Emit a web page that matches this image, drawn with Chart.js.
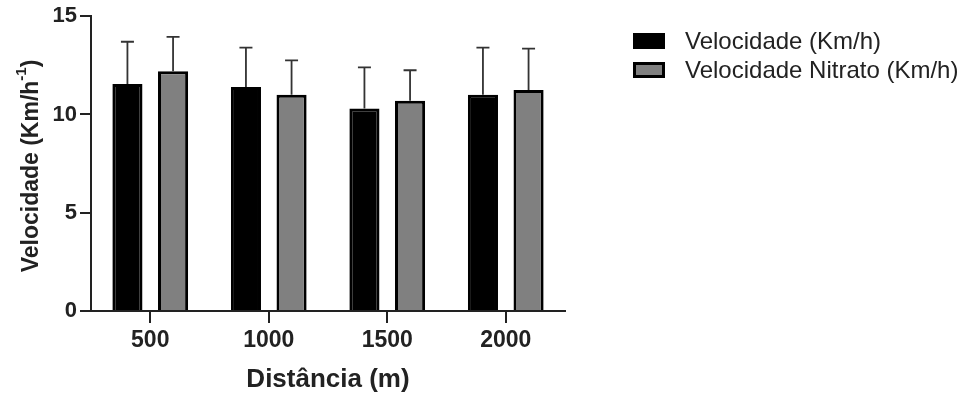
<!DOCTYPE html>
<html>
<head>
<meta charset="utf-8">
<script src="https://cdn.jsdelivr.net/npm/chart.js@4"></script>
<style>
  html, body { margin: 0; padding: 0; background: #fff; }
  #wrap { width: 978px; height: 400px; position: relative; }
</style>
</head>
<body>
<div id="wrap"><canvas id="velChart"></canvas></div>
<script>
// Velocidade média por distância, com e sem nitrato (média + DP)
const distancias = ['500', '1000', '1500', '2000'];
const velocidade = [11.55, 11.4, 10.3, 11.0];
const velocidadeDP = [2.15, 2.0, 2.1, 2.4];
const velocidadeNitrato = [12.2, 11.0, 10.7, 11.25];
const velocidadeNitratoDP = [1.75, 1.75, 1.55, 2.1];
const nomesSeries = ['Velocidade (Km/h)', 'Velocidade Nitrato (Km/h)'];
const yMax = 15;
const yStep = 5;

const FONT = "'Liberation Sans', Arial, sans-serif";
const INK = '#222';

// upper-only error bars with a small cap
const errorBars = {
    id: 'errorBars',
    afterDatasetsDraw(chart) {
        const ctx = chart.ctx;
        const yScale = chart.scales.y;
        ctx.save();
        ctx.strokeStyle = '#333';
        ctx.lineWidth = 1.8;
        chart.data.datasets.forEach((ds, i) => {
            const meta = chart.getDatasetMeta(i);
            meta.data.forEach((bar, j) => {
                const top = yScale.getPixelForValue(ds.data[j] + ds.errors[j]);
                ctx.beginPath();
                ctx.moveTo(bar.x, bar.y);
                ctx.lineTo(bar.x, top);
                ctx.moveTo(bar.x - 6.5, top);
                ctx.lineTo(bar.x + 6.5, top);
                ctx.stroke();
            });
        });
        ctx.restore();
    }
};

// rotated y title with superscript exponent
const yTitle = {
    id: 'yTitle',
    afterDraw(chart) {
        const ctx = chart.ctx;
        const main = 'Velocidade (Km/h';
        const sup = '-1';
        const close = ')';
        ctx.save();
        ctx.translate(32, 166);
        ctx.rotate(-Math.PI / 2);
        ctx.fillStyle = INK;
        ctx.textBaseline = 'middle';
        ctx.font = 'bold 23px ' + FONT;
        const wMain = ctx.measureText(main).width;
        const wClose = ctx.measureText(close).width;
        ctx.font = 'bold 15px ' + FONT;
        const wSup = ctx.measureText(sup).width;
        let x = -(wMain + wSup + wClose) / 2;
        ctx.font = 'bold 23px ' + FONT;
        ctx.textAlign = 'left';
        ctx.fillText(main, x, 0);
        x += wMain;
        ctx.font = 'bold 15px ' + FONT;
        ctx.fillText(sup, x, -10);
        x += wSup;
        ctx.font = 'bold 23px ' + FONT;
        ctx.fillText(close, x, 0);
        ctx.restore();
    }
};

// legend to the right of the plot
const sideLegend = {
    id: 'sideLegend',
    afterDraw(chart) {
        const ctx = chart.ctx;
        ctx.save();
        ctx.font = '24px ' + FONT;
        ctx.textBaseline = 'middle';
        ctx.textAlign = 'left';
        chart.data.datasets.forEach((ds, i) => {
            const cy = 41 + i * 29;
            ctx.fillStyle = ds.borderColor;
            ctx.fillRect(633, cy - 8, 32, 16);
            ctx.fillStyle = ds.backgroundColor;
            ctx.fillRect(636, cy - 5, 26, 10);
            ctx.fillStyle = INK;
            ctx.fillText(ds.label, 685, cy + 1);
        });
        ctx.restore();
    }
};

new Chart(document.getElementById('velChart'), {
    type: 'bar',
    data: {
        labels: distancias,
        datasets: [
            {
                label: nomesSeries[0],
                data: velocidade,
                errors: velocidadeDP,
                backgroundColor: '#000',
                borderColor: '#000',
                borderWidth: 3
            },
            {
                label: nomesSeries[1],
                data: velocidadeNitrato,
                errors: velocidadeNitratoDP,
                backgroundColor: '#808080',
                borderColor: '#000',
                borderWidth: 3
            }
        ]
    },
    options: {
        responsive: true,
        maintainAspectRatio: false,
        animation: false,
        categoryPercentage: 0.77,
        barPercentage: 0.66,
        layout: { padding: { top: 16, right: 413, bottom: 0, left: 0 } },
        plugins: {
            legend: { display: false },
            tooltip: { enabled: false }
        },
        scales: {
            x: {
                afterFit: s => { s.height = 89; },
                grid: {
                    display: true,
                    drawOnChartArea: false,
                    drawTicks: true,
                    offset: false,
                    tickLength: 12,
                    color: INK,
                    lineWidth: 2
                },
                border: { display: true, color: INK, width: 2 },
                ticks: {
                    color: INK,
                    padding: 4,
                    font: { family: FONT, size: 23, weight: 'bold' }
                },
                title: {
                    display: true,
                    text: 'Distância (m)',
                    color: INK,
                    padding: { top: 0, bottom: 5 },
                    font: { family: FONT, size: 26, weight: 'bold' }
                }
            },
            y: {
                min: 0,
                max: yMax,
                afterFit: s => { s.width = 91; },
                grid: {
                    display: true,
                    drawOnChartArea: false,
                    drawTicks: true,
                    tickLength: 11,
                    color: INK,
                    lineWidth: 2
                },
                border: { display: true, color: INK, width: 2 },
                ticks: {
                    stepSize: yStep,
                    color: INK,
                    padding: 3,
                    font: { family: FONT, size: 22, weight: 'bold' }
                }
            }
        }
    },
    plugins: [errorBars, yTitle, sideLegend]
});
</script>
</body>
</html>
